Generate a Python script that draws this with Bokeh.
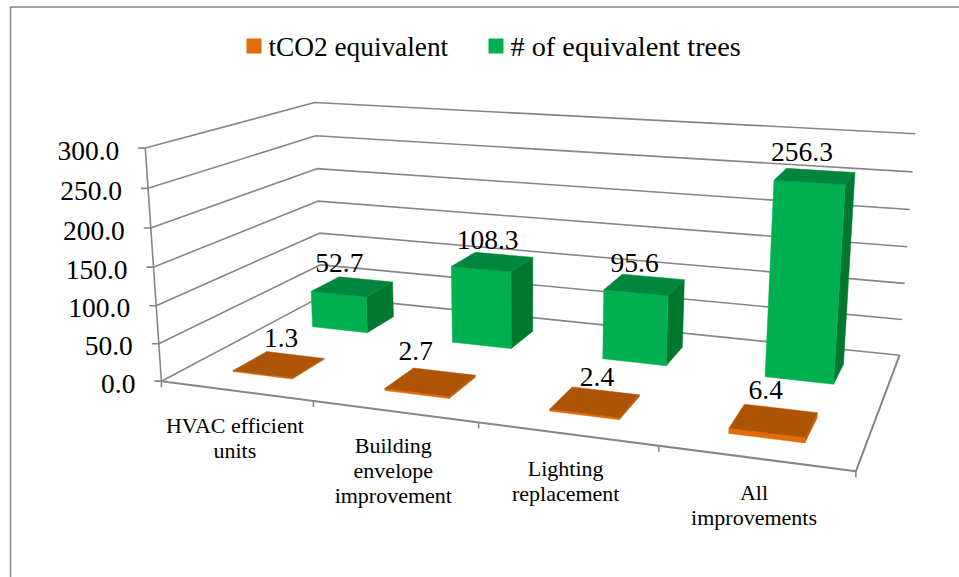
import numpy as np
from bokeh.plotting import figure
from bokeh.models import Range1d
from bokeh.core.properties import value
from bokeh.embed import file_html
from bokeh.resources import INLINE

# ---- data ----
categories = [["HVAC efficient", "units"],
              ["Building", "envelope", "improvement"],
              ["Lighting", "replacement"],
              ["All", "improvements"]]
series_names = ["tCO2 equivalent", "# of equivalent trees"]
tco2 = [1.3, 2.7, 2.4, 6.4]
trees = [52.7, 108.3, 95.6, 256.3]
y_ticks = [0, 50, 100, 150, 200, 250, 300]

# ---- colours / style ----
GRID = "#868686"
FONT = value("Liberation Serif")
ORANGE = dict(front="#E36C09", top="#AE5505", side="#C05F08")
GREEN = dict(front="#00B050", top="#00863D", side="#00772F")

# ---- projection of the 3-D box (cat 0..4, depth 0..1, value 0..300) onto the page ----
calib = []
left_front = [(161,380),(158,343),(155.5,305),(153,266),(151,227),(147.7,188),(144,148)]
left_back = [(321,295),(320,264),(319,233),(318,201),(317,168),(315,136),(314,102)]
right_back = [(899,355),(902,319),(904,283),(907,246),(909,209),(912,171),(915,133)]
for k, v in enumerate(y_ticks):
    calib.append((0, 0, v, *left_front[k]))
    calib.append((0, 1, v, *left_back[k]))
    calib.append((4, 1, v, *right_back[k]))
calib += [(1,0,0,313,402), (2,0,0,479,422), (3,0,0,658,446), (4,0,0,855,470)]
A = []
b = []
for c, d, v, x, y in calib:
    X = [c/4, d, v/300, 1]
    A.append(X + [0,0,0,0] + [-x*t for t in X[:3]])
    b.append(x)
    A.append([0,0,0,0] + X + [-y*t for t in X[:3]])
    b.append(y)
H = np.linalg.lstsq(np.array(A, float), np.array(b, float), rcond=None)[0]
P = np.append(H, 1).reshape(3, 4)

def proj(c, d, v):
    q = P @ np.array([c/4, d, v/300, 1])
    return q[0]/q[2], q[1]/q[2]

p = figure(width=959, height=577, x_range=Range1d(0, 959), y_range=Range1d(577, 0),
           x_axis_location=None, y_axis_location=None, toolbar_location=None,
           output_backend="svg", min_border=0, outline_line_color=None,
           styles={"position": "absolute", "left": "0", "top": "0"})
p.grid.visible = False

def seg(pts, width=1.6):
    p.line([a[0] for a in pts], [a[1] for a in pts], line_color=GRID, line_width=width)

# page frame
seg([(10, 577), (10, 6.5), (959, 6.5)], 1.5)

# walls and floor
for v in y_ticks:
    seg([proj(0, 0, v), proj(0, 1, v), proj(4, 1, v)])
    x0, y0 = proj(0, 0, v)
    seg([(x0 - 7, y0), (x0, y0)])
    p.text([x0 - 26], [y0 + 2.5], text=[f"{v:.1f}"], text_font=FONT, text_font_size="27.5px",
           text_align="right", text_baseline="middle", text_color="#000000")
seg([proj(0, 0, 0), proj(0, 0, 300)])
seg([proj(0, 0, 0), proj(4, 0, 0), proj(4, 1, 0)], 2)
for c in range(5):
    x0, y0 = proj(c, 0, 0)
    seg([(x0, y0), (x0, y0 + 6)])

# bars
BAR_W = 0.40
BAR_D = 0.20

def bar(i, slot, val, col):
    c0, c1 = i + 0.5 - BAR_W/2, i + 0.5 + BAR_W/2
    d0, d1 = slot - BAR_D/2, slot + BAR_D/2
    faces = [([(c1,d0,0),(c1,d1,0),(c1,d1,val),(c1,d0,val)], col["side"]),
             ([(c0,d0,0),(c1,d0,0),(c1,d0,val),(c0,d0,val)], col["front"]),
             ([(c0,d0,val),(c1,d0,val),(c1,d1,val),(c0,d1,val)], col["top"])]
    for f, color in faces:
        pts = [proj(*t) for t in f]
        p.patch([a[0] for a in pts], [a[1] for a in pts], fill_color=color,
                line_color=color, line_width=0.5)

for i, val in enumerate(trees):
    bar(i, 0.75, val, GREEN)
for i, val in enumerate(tco2):
    bar(i, 0.25, val, ORANGE)

# data labels
nudge = {0.25: [(2, -26), (-15, -31), (2, -25), (-8, -30)],
         0.75: [(-13, -24), (-5, -22), (-10, -22), (-13, -24)]}
for slot, vals in ((0.25, tco2), (0.75, trees)):
    for i, val in enumerate(vals):
        x, y = proj(i + 0.5, slot, val)
        dx, dy = nudge[slot][i]
        p.text([x + dx], [y + dy], text=[f"{val:.1f}"], text_font=FONT, text_font_size="27.5px",
               text_align="center", text_baseline="middle", text_color="#000000")

# category labels
for i, lines in enumerate(categories):
    x, y = proj(i + 0.5, 0, 0)
    for k, line in enumerate(lines):
        p.text([x - 1], [y + 34.5 + 25*k], text=[line], text_font=FONT, text_font_size="22px",
               text_align="center", text_baseline="middle", text_color="#000000")

# legend
for name, col, sx, tx, fs in ((series_names[0], ORANGE, 246, 268, "27.3px"),
                              (series_names[1], GREEN, 488, 510, "28.3px")):
    p.quad(left=[sx], right=[sx + 15], top=[38], bottom=[53], fill_color=col["front"], line_color=None)
    p.text([tx], [46], text=[name], text_font=FONT, text_font_size=fs,
           text_align="left", text_baseline="middle", text_color="#000000")

open("out.html", "w").write(file_html(p, INLINE))
